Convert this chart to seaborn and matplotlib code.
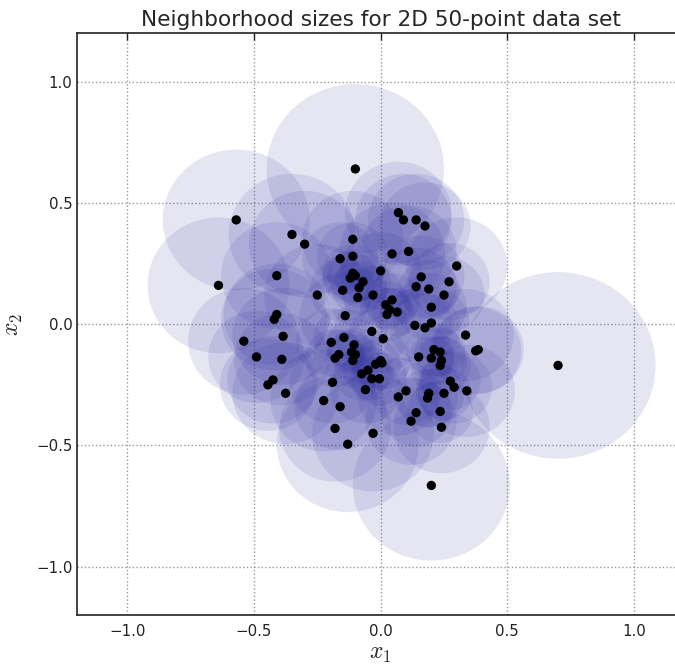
import matplotlib
matplotlib.use('Agg')
import matplotlib.pyplot as plt
from matplotlib.patches import Circle
from matplotlib.collections import PatchCollection
import seaborn as sb
import pandas as pd

# point positions
x1 = [-0.10, -0.57, -0.35, -0.30, -0.11, -0.16, -0.11, 0.045, 0.07, -0.64,
      -0.41, -0.11, -0.12, -0.10, -0.07, -0.085, -0.15, 0.0, -0.25, -0.09,
      -0.03, -0.41, -0.42, -0.14, 0.045, 0.02, 0.035, 0.065, 0.025, -0.035,
      0.01, -0.385, -0.54, -0.145, 0.09, 0.14, 0.175, 0.11, 0.30, 0.16,
      0.27, 0.14, 0.19, 0.25, 0.20, 0.135, 0.175, 0.20, 0.335, -0.195,
      -0.105, -0.49, -0.39, -0.165, -0.18, -0.115, -0.10, -0.11, 0.0, -0.02,
      0.005, -0.05, -0.075, -0.035, -0.005, -0.425, -0.445, -0.19, -0.06, -0.375,
      -0.225, -0.16, 0.07, -0.18, -0.03, -0.13, 0.375, 0.385, 0.21, 0.235,
      0.20, 0.24, 0.235, 0.15, 0.275, 0.29, 0.34, 0.10, 0.19, 0.185,
      0.25, 0.14, 0.235, 0.12, 0.24, 0.20, 0.70]
x2 = [0.64, 0.43, 0.37, 0.33, 0.35, 0.27, 0.28, 0.29, 0.46, 0.16,
      0.20, 0.21, 0.19, 0.20, 0.175, 0.15, 0.14, 0.22, 0.12, 0.11,
      0.12, 0.04, 0.02, 0.035, 0.10, 0.08, 0.06, 0.05, 0.04, -0.03,
      -0.06, -0.05, -0.07, -0.055, 0.43, 0.43, 0.405, 0.30, 0.24, 0.195,
      0.175, 0.155, 0.145, 0.12, 0.07, -0.005, -0.015, 0.005, -0.045, -0.075,
      -0.085, -0.135, -0.145, -0.125, -0.14, -0.115, -0.125, -0.15, -0.15, -0.165,
      -0.16, -0.19, -0.205, -0.225, -0.225, -0.23, -0.25, -0.24, -0.27, -0.285,
      -0.315, -0.34, -0.30, -0.43, -0.45, -0.495, -0.11, -0.105, -0.105, -0.115,
      -0.14, -0.15, -0.17, -0.135, -0.235, -0.26, -0.275, -0.275, -0.285, -0.305,
      -0.285, -0.365, -0.36, -0.40, -0.425, -0.665, -0.17]
# neighborhood radius of each point
radius = [0.35, 0.29, 0.25, 0.22, 0.20, 0.15, 0.14, 0.21, 0.21, 0.28,
          0.22, 0.12, 0.11, 0.11, 0.11, 0.11, 0.13, 0.16, 0.21, 0.12,
          0.12, 0.21, 0.21, 0.18, 0.11, 0.10, 0.09, 0.10, 0.11, 0.15,
          0.14, 0.20, 0.22, 0.12, 0.19, 0.19, 0.18, 0.19, 0.20, 0.17,
          0.16, 0.16, 0.12, 0.16, 0.14, 0.15, 0.14, 0.15, 0.19, 0.14,
          0.11, 0.19, 0.19, 0.10, 0.12, 0.09, 0.11, 0.11, 0.12, 0.10,
          0.11, 0.10, 0.11, 0.09, 0.11, 0.18, 0.19, 0.17, 0.14, 0.21,
          0.21, 0.18, 0.16, 0.22, 0.24, 0.28, 0.18, 0.18, 0.11, 0.10,
          0.09, 0.10, 0.12, 0.14, 0.12, 0.15, 0.19, 0.14, 0.14, 0.12,
          0.11, 0.14, 0.13, 0.18, 0.19, 0.31, 0.385]

ticks = [-1.0, -0.5, 0.0, 0.5, 1.0]

df = pd.DataFrame({'x1': x1, 'x2': x2, 'r': radius})

sb.set_style('white')
plt.rcParams['mathtext.fontset'] = 'cm'
plt.rcParams['font.family'] = ['DejaVu Sans']

fig = plt.figure(figsize=(6.75, 6.66), dpi=100)
ax = fig.add_axes([0.1135, 0.0763, 0.9009, 0.8739])

circles = [Circle((a, b), r) for a, b, r in zip(df['x1'], df['x2'], df['r'])]
ax.add_collection(PatchCollection(circles, facecolor=(0.17, 0.17, 0.62), edgecolor='none',
                                  alpha=0.115, zorder=2))
sb.scatterplot(data=df, x='x1', y='x2', color='black', s=45, edgecolor='none',
               zorder=3, ax=ax)

ax.set_xlim(-1.2, 1.2)
ax.set_ylim(-1.2, 1.2)
ax.set_xticks(ticks)
ax.set_yticks(ticks)
ax.grid(True, color='0.6', linestyle=':', linewidth=1)
ax.set_axisbelow(True)
for sp in ax.spines.values():
    sp.set_color('#222222')
    sp.set_linewidth(1.2)
ax.tick_params(direction='in', top=True, right=True, length=5, width=1, labelsize=10.8,
               colors='#222222')
ax.tick_params(axis='x', pad=6)
ax.tick_params(axis='y', pad=3)
ax.set_title('Neighborhood sizes for 2D 50-point data set', fontsize=15.6, pad=5)
ax.set_xlabel('$x_1$', fontsize=17, labelpad=2)
ax.set_ylabel('$x_2$', fontsize=17, labelpad=8)

fig.savefig('out.png', dpi=100)
